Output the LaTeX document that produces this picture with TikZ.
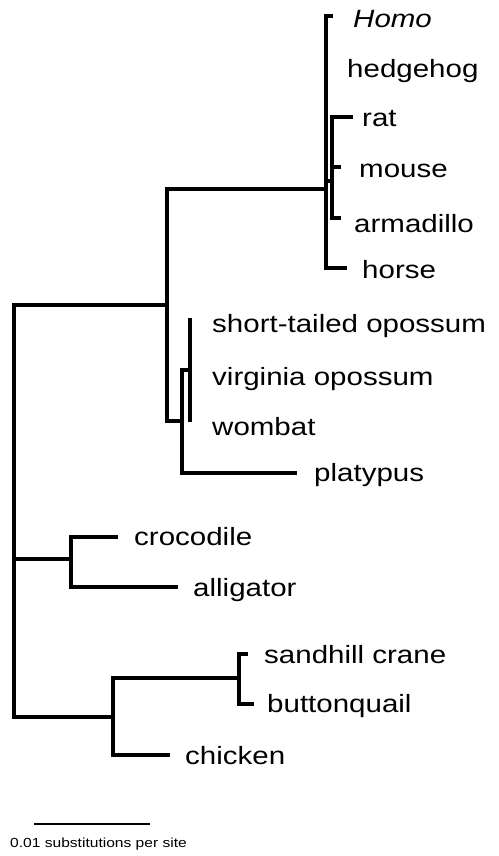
\documentclass[tikz,border=0pt]{standalone}
\usepackage{fontspec}
\setmainfont{Liberation Sans}[FakeStretch=1.18]
\begin{document}
\begin{tikzpicture}[x=1pt,y=-1pt,
  br/.style={line width=3.2pt, line join=miter, line cap=butt},
  taxon/.style={anchor=base west, inner sep=0pt, font=\fontsize{25}{29}\selectfont},
  scalebar/.style={line width=2.3pt},
  scaletext/.style={anchor=base west, inner sep=0pt, font=\fontsize{13.2}{15}\selectfont}]
\useasboundingbox (0,0) rectangle (498,856);

% internal nodes
\coordinate (root) at (14,559);
\coordinate (mam)  at (167,305);
\coordinate (plac) at (326,189);
\coordinate (rod)  at (332,181);
\coordinate (ther) at (182,421);
\coordinate (mars) at (190,370);
\coordinate (croc) at (71,559);
\coordinate (bird) at (113,717);
\coordinate (gru)  at (239,678);

% branch tips
\coordinate (tHomo)  at (333,16);
\coordinate (tRat)   at (353,117);
\coordinate (tMouse) at (341,167);
\coordinate (tArma)  at (341,218);
\coordinate (tHorse) at (347,268);
\coordinate (tSto)   at (190,318);
\coordinate (tWomb)  at (190,422);
\coordinate (tPlat)  at (297,473);
\coordinate (tCroc)  at (118,537);
\coordinate (tAlli)  at (178,587);
\coordinate (tSand)  at (248,654);
\coordinate (tButt)  at (254,704);
\coordinate (tChic)  at (170,755);

% taxon labels
\node[taxon] (homo)  at (353,28)  {\itshape Homo};
\node[taxon] (hedge) at (347,78)  {hedgehog};
\node[taxon] (rat)   at (362,127) {rat};
\node[taxon] (mouse) at (359,177) {mouse};
\node[taxon] (arma)  at (354,232) {armadillo};
\node[taxon] (horse) at (362,278) {horse};
\node[taxon] (sto)   at (212,332) {short-tailed opossum};
\node[taxon] (virg)  at (212,385) {virginia opossum};
\node[taxon] (womb)  at (212,435) {wombat};
\node[taxon] (plat)  at (314,481) {platypus};
\node[taxon] (crocl) at (134,545) {crocodile};
\node[taxon] (alli)  at (193,596) {alligator};
\node[taxon] (sand)  at (264,663) {sandhill crane};
\node[taxon] (butt)  at (267,712) {buttonquail};
\node[taxon] (chic)  at (185,764) {chicken};

% tree
\draw[br] (tHomo) -| (plac) |- (tHorse);
\draw[br] (tRat) -| (rod) |- (tArma);
\draw[br] (rod |- tMouse) -- (tMouse);
\draw[br] (plac |- rod) -- (rod);
\draw[br] (plac) -| (mam) |- (ther);
\draw[br] (mars) -| (ther) |- (tPlat);
\draw[br] (tSto) -- (tWomb);
\draw[br] (mam) -| (root) |- (bird);
\draw[br] (root) -- (croc);
\draw[br] (tCroc) -| (croc) |- (tAlli);
\draw[br] (gru) -| (bird) |- (tChic);
\draw[br] (tSand) -| (gru) |- (tButt);

% scale
\coordinate (sbL) at (34,824);
\coordinate (sbR) at (150,824);
\draw[scalebar] (sbL) -- (sbR);
\node[scaletext] (sbt) at (10,847) {0.01 substitutions per site};
\end{tikzpicture}
\end{document}
